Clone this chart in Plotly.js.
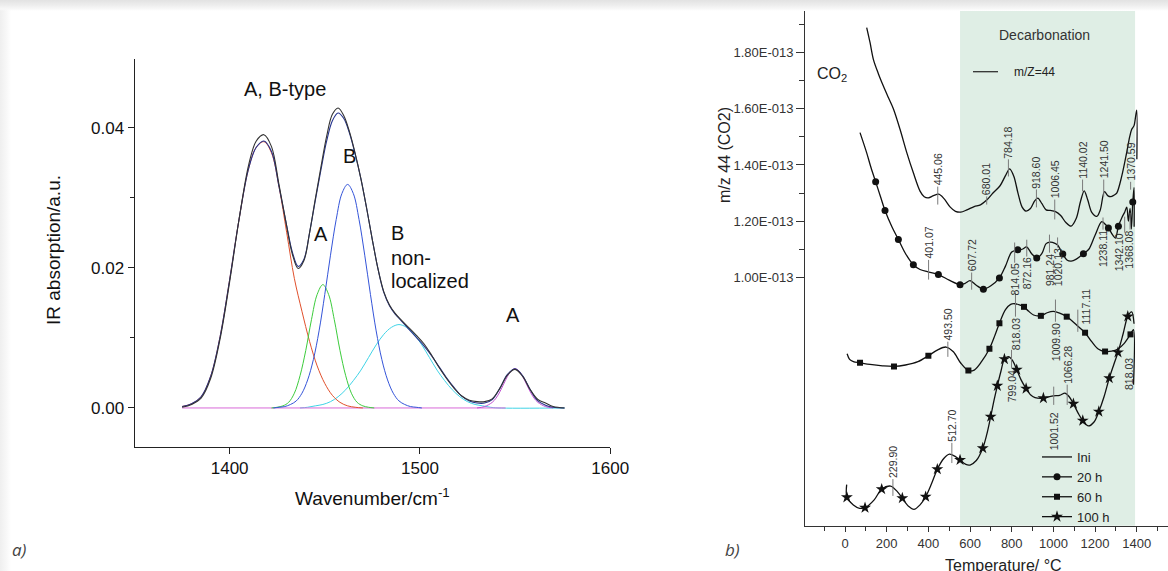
<!DOCTYPE html>
<html>
<head>
<meta charset="utf-8">
<script src="https://cdn.plot.ly/plotly-3.0.1.min.js"></script>
<style>
  html, body { margin: 0; padding: 0; }
  body {
    width: 1168px; height: 571px; overflow: hidden;
    background:
      linear-gradient(to bottom, #e2e2e2 0px, #ededed 5px, #f8f8f8 9px, rgba(255,255,255,0) 11px) top left / 100% 12px no-repeat,
      linear-gradient(to right, #efefef 0px, #f7f7f7 6px, rgba(255,255,255,0) 11px) left top / 12px 100% no-repeat,
      #ffffff;
  }
  #chart { width: 1168px; height: 571px; }
</style>
</head>
<body>
<div id="chart"></div>
<script>
// ---------- (a) IR band deconvolution, carbonate v3 region ----------
const fitX = [1375,1380,1385,1390,1395,1400,1405,1410,1414,1418,1422,1426,1430,1433,1436,1439,1442,1445,1448,1451,1454,1457,1460,1463,1466,1469,1472,1475,1478,1481,1484,1487,1490,1494,1498,1502,1506,1510,1514,1518,1522,1526,1530,1534,1538,1542,1546,1550,1554,1558,1562,1566,1570,1576];
const fitSum = [0.0002,0.0006,0.0016,0.0045,0.0102,0.0183,0.0270,0.0342,0.0372,0.0381,0.0366,0.0315,0.0260,0.0222,0.0202,0.0212,0.0250,0.0296,0.0340,0.0381,0.0410,0.0421,0.0413,0.0392,0.0362,0.0327,0.0285,0.0240,0.0198,0.0165,0.0146,0.0134,0.0125,0.0113,0.0101,0.0089,0.0075,0.0059,0.0043,0.0029,0.0017,0.0010,0.0007,0.0007,0.0012,0.0028,0.0048,0.0056,0.0046,0.0026,0.0010,0.0004,0.0001,0];
const measured = [0.0001,0.0005,0.0014,0.0042,0.0099,0.0180,0.0270,0.0347,0.0381,0.0390,0.0373,0.0318,0.0259,0.0219,0.0199,0.0210,0.0250,0.0298,0.0344,0.0388,0.0419,0.0428,0.0417,0.0394,0.0363,0.0327,0.0285,0.0240,0.0198,0.0166,0.0147,0.0135,0.0126,0.0115,0.0104,0.0092,0.0076,0.0058,0.0042,0.0028,0.0017,0.0011,0.0009,0.0009,0.0013,0.0028,0.0047,0.0055,0.0045,0.0026,0.0012,0.0007,0.0002,0];

const redX = [1375,1380,1385,1390,1395,1400,1405,1410,1414,1418,1422,1426,1430,1434,1438,1442,1446,1450,1454,1458,1462,1466,1470];
const redY = [0.0002,0.0006,0.0016,0.0045,0.0102,0.0183,0.0270,0.0342,0.0372,0.0380,0.0364,0.0315,0.0250,0.0185,0.0138,0.0095,0.0060,0.0035,0.0018,0.0008,0.0003,0.0001,0];

const greenX = [1422,1425,1428,1431,1434,1437,1440,1443,1446,1449,1452,1455,1458,1461,1464,1467,1470,1473,1476];
const greenY = [0,0.0001,0.0003,0.0008,0.0021,0.0046,0.0082,0.0126,0.0162,0.0176,0.0162,0.0126,0.0082,0.0046,0.0021,0.0008,0.0003,0.0001,0];

const bandBX = [1423,1426,1429,1432,1435,1438,1441,1444,1447,1450,1453,1456,1459,1462,1465,1468,1471,1474,1477,1480,1483,1486,1489,1492,1495,1498,1501];
const bandBY = [0,0.0001,0.0002,0.0005,0.0010,0.0021,0.0040,0.0069,0.0110,0.0162,0.0218,0.0269,0.0306,0.0319,0.0306,0.0269,0.0218,0.0162,0.0110,0.0069,0.0040,0.0021,0.0010,0.0005,0.0002,0.0001,0];

const cyanX = [1437,1441,1445,1449,1453,1457,1461,1465,1469,1473,1477,1481,1485,1489,1493,1497,1501,1505,1509,1513,1517,1521,1525,1529,1533,1537,1541,1576];
const cyanY = [0,0.0001,0.0003,0.0005,0.0009,0.0016,0.0026,0.0039,0.0054,0.0072,0.0090,0.0105,0.0115,0.0119,0.0115,0.0105,0.0090,0.0072,0.0054,0.0039,0.0026,0.0016,0.0009,0.0005,0.0003,0.0001,0,0];

const bandAX = [1530,1534,1538,1540,1542,1544,1546,1548,1550,1552,1554,1556,1558,1560,1562,1566,1570];
const bandAY = [0,0.0002,0.0008,0.0014,0.0023,0.0034,0.0045,0.0053,0.0056,0.0053,0.0045,0.0034,0.0023,0.0014,0.0008,0.0002,0];

const baseX = [1375,1545];
const baseY = [0,0];

const irTickVals = [0, 0.02, 0.04];
const irTickText = ['0.00', '0.02', '0.04'];
const wnTickVals = [1400, 1500, 1600];

// ---------- (b) MS signal m/z 44 vs temperature (values in 1e-13) ----------
const tIni = [104,120,136,160,184,208,232,264,296,328,360,380,400,425,450,475,505,530,555,585,620,650,680,710,744,770,790,810,830,850,868,890,910,925,945,965,985,1010,1035,1060,1085,1110,1130,1148,1165,1185,1208,1225,1245,1262,1275,1290,1304,1328,1352,1366,1376,1387,1395,1400,1400.5];
const vIni = [1.889,1.836,1.776,1.725,1.681,1.640,1.600,1.527,1.445,1.372,1.307,1.287,1.283,1.291,1.296,1.280,1.250,1.235,1.232,1.240,1.252,1.258,1.275,1.300,1.326,1.362,1.386,1.360,1.300,1.250,1.236,1.245,1.272,1.282,1.262,1.240,1.238,1.234,1.220,1.195,1.182,1.210,1.270,1.308,1.275,1.230,1.217,1.240,1.305,1.290,1.287,1.292,1.300,1.360,1.445,1.500,1.527,1.540,1.575,1.595,1.420];

const t20 = [72,104,125,147,170,192,225,256,290,328,360,395,448,500,552,575,600,630,664,700,741,770,800,829,850,872,895,920,945,965,985,1005,1020,1045,1065,1085,1110,1144,1170,1200,1232,1250,1264,1285,1298,1312,1330,1342,1352,1360,1368,1374,1381,1387,1387.5];
const v20 = [1.515,1.443,1.390,1.340,1.288,1.238,1.180,1.135,1.085,1.045,1.028,1.020,1.010,0.990,0.974,0.978,0.988,0.972,0.958,0.970,0.998,1.040,1.090,1.098,1.100,1.108,1.085,1.069,1.085,1.120,1.125,1.122,1.115,1.083,1.062,1.058,1.065,1.084,1.100,1.150,1.198,1.188,1.176,1.150,1.140,1.182,1.215,1.232,1.250,1.200,1.245,1.172,1.268,1.320,1.180];
const marks20 = [147,192,256,328,448,552,664,741,829,920,1045,1144,1264,1312,1381];

const t60 = [10,22,40,72,120,180,235,290,350,400,445,485,520,555,592,620,655,693,720,741,770,795,815,837,859,880,905,940,970,1000,1030,1064,1090,1115,1152,1185,1215,1248,1280,1310,1340,1370,1384,1384.5];
const v60 = [0.728,0.708,0.700,0.696,0.690,0.685,0.683,0.688,0.700,0.721,0.742,0.752,0.735,0.695,0.668,0.670,0.700,0.746,0.795,0.837,0.885,0.904,0.906,0.902,0.895,0.880,0.866,0.863,0.874,0.879,0.873,0.860,0.845,0.828,0.803,0.770,0.745,0.736,0.737,0.745,0.765,0.797,0.814,0.618];
const marks60 = [72,235,400,592,693,741,859,940,1064,1152,1248,1370];

const t100 = [8,9,40,70,96,140,176,219,250,275,305,331,360,387,415,443,475,501,530,552,580,600,630,661,680,699,715,731,748,765,784,805,824,845,869,890,912,952,975,1000,1030,1056,1076,1096,1120,1141,1168,1195,1218,1243,1268,1290,1310,1335,1357,1376,1387];
const v100 = [0.262,0.217,0.190,0.178,0.180,0.208,0.246,0.257,0.238,0.214,0.185,0.174,0.190,0.219,0.265,0.317,0.356,0.371,0.362,0.350,0.334,0.332,0.348,0.392,0.440,0.504,0.562,0.614,0.665,0.709,0.718,0.703,0.671,0.635,0.604,0.582,0.572,0.570,0.574,0.578,0.580,0.588,0.575,0.550,0.515,0.490,0.471,0.485,0.522,0.575,0.641,0.690,0.733,0.800,0.861,0.877,0.835];
const marks100 = [9,96,176,275,387,443,552,661,699,731,765,824,869,952,1096,1141,1218,1268,1310,1357];

// peak temperatures written on the curves
const peaksIni = [445.06, 680.01, 784.18, 918.60, 1006.45, 1140.02, 1241.50, 1370.59];
const peaks20 = [401.07, 607.72, 814.05, 872.16, 981.24, 1020.13, 1238.11, 1342.10, 1368.08];
const peaks60 = [493.50, 818.03, 1009.90, 1117.11];
const peaks100 = [229.90, 512.70, 799.04, 1001.52, 1066.28];
const decarbRange = [552, 1392];

const tempTickVals = [0, 200, 400, 600, 800, 1000, 1200, 1400];
const tempMinorVals = [-100, 100, 300, 500, 700, 900, 1100, 1300, 1500];
const msTickVals = [1.0, 1.2, 1.4, 1.6, 1.8];
const msTickText = ['1.00E-013', '1.20E-013', '1.40E-013', '1.60E-013', '1.80E-013'];
const msMinorVals = [1.1, 1.3, 1.5, 1.7, 1.9];

// label placement: [tick low, tick high, text y, text anchor, x shift px]
const placeIni = [[1.259,1.323,1.323,'bottom',0],[1.259,1.288,1.288,'bottom',0],[1.359,1.420,1.420,'bottom',0],[1.249,1.313,1.313,'bottom',0],[1.206,1.277,1.277,'bottom',0],[1.306,1.348,1.348,'bottom',0],[1.288,1.348,1.348,'bottom',0],[1.312,1.340,1.340,'bottom',0]];
const place20 = [[0.992,1.062,1.062,'bottom',0],[0.956,1.017,1.017,'bottom',0],[1.052,1.124,1.052,'top',0],[1.074,1.134,1.074,'top',0],[1.088,1.152,1.088,'top',0],[1.106,1.142,1.106,'top',0],[1.170,1.213,1.170,'top',0],[1.159,1.216,1.159,'top',-6],[1.170,1.230,1.170,'top',-2]];
const place60 = [[0.717,0.771,0.771,'bottom',0],[0.860,0.946,0.860,'top',0],[0.842,0.921,0.842,'top',0],[0.806,0.885,0.963,'top',8]];
const place100 = [[0.222,0.282,0.282,'bottom',0],[0.339,0.411,0.411,'bottom',0],[0.678,0.742,0.671,'top',0],[0.546,0.611,0.522,'top',0],[0.546,0.618,0.618,'bottom',0]];
const strayLabel = {text: '818.03', t: 1360, v: 0.718};

const FONT = 'Liberation Sans, Arial, Helvetica, sans-serif';

function irLine(x, y, color, width) {
  return {type: 'scatter', mode: 'lines', x: x, y: y, xaxis: 'x', yaxis: 'y',
    line: {color: color, width: width || 1, shape: 'spline', smoothing: 1},
    showlegend: false, hoverinfo: 'skip'};
}

function msSeries(name, t, v, marks, symbol, size) {
  const tr = {type: 'scatter', name: name, x: t, y: v, xaxis: 'x2', yaxis: 'y2',
    mode: marks ? 'lines+markers' : 'lines',
    line: {color: '#111', width: 1.3, shape: 'spline', smoothing: 0.9},
    hoverinfo: 'skip'};
  if (marks) {
    tr.marker = {symbol: symbol, size: size, color: '#111', line: {width: 0}};
    tr.selectedpoints = marks.map(m => t.indexOf(m));
    tr.selected = {marker: {opacity: 1}};
    tr.unselected = {marker: {opacity: 0}};
  }
  return tr;
}

const traces = [
  irLine(cyanX, cyanY, '#3fd3e6'),
  irLine(baseX, baseY, '#d86ad8'),
  irLine(redX, redY, '#e0502c'),
  irLine(greenX, greenY, '#3ccc3c'),
  irLine(bandBX, bandBY, '#3454d8'),
  irLine(bandAX, bandAY, '#c050d0'),
  irLine(fitX, fitSum, '#26348e', 1.1),
  irLine(fitX, measured, '#333333', 1.1),
  msSeries('Ini', tIni, vIni, null),
  msSeries('20 h', t20, v20, marks20, 'circle', 7),
  msSeries('60 h', t60, v60, marks60, 'square', 6),
  msSeries('100 h', t100, v100, marks100, 'star', 9)
];

const shapes = [{
  type: 'rect', xref: 'x2', yref: 'y2 domain', x0: decarbRange[0], x1: decarbRange[1], y0: 0, y1: 1,
  fillcolor: '#dfeee5', line: {width: 0}, layer: 'below'
}, {
  type: 'line', xref: 'paper', yref: 'paper', x0: 973 / 1168, x1: 998 / 1168, y0: 0.8744, y1: 0.8744,
  line: {color: '#222', width: 1.2}
}];

const annotations = [];
function peakLabels(peaks, place) {
  peaks.forEach((p, i) => {
    const pl = place[i];
    shapes.push({type: 'line', xref: 'x2', yref: 'y2', x0: p, x1: p, y0: pl[0], y1: pl[1],
      line: {color: '#7a7a7a', width: 1}});
    annotations.push({xref: 'x2', yref: 'y2', x: p, y: pl[2], yanchor: pl[3], xanchor: 'center',
      xshift: pl[4], textangle: -90, text: p.toFixed(2), showarrow: false, borderpad: 0,
      font: {family: FONT, size: 10.5, color: '#333'}});
  });
}
peakLabels(peaksIni, placeIni);
peakLabels(peaks20, place20);
peakLabels(peaks60, place60);
peakLabels(peaks100, place100);
annotations.push({xref: 'x2', yref: 'y2', x: strayLabel.t, y: strayLabel.v, yanchor: 'top', xanchor: 'center',
  textangle: -90, text: strayLabel.text, showarrow: false, borderpad: 0,
  font: {family: FONT, size: 10.5, color: '#333'}});

function txt(ref, x, y, text, size, opts) {
  return Object.assign({xref: ref === 'paper' ? 'paper' : 'x', yref: ref === 'paper' ? 'paper' : 'y',
    x: x, y: y, text: text, showarrow: false, xanchor: 'center', yanchor: 'middle',
    font: {family: FONT, size: size, color: '#111'}}, opts || {});
}

annotations.push(
  // band assignments, panel a
  txt('data', 1429.1, 0.0455, 'A, B-type', 20),
  txt('data', 1462.9, 0.0359, 'B', 20),
  txt('data', 1448, 0.0248, 'A', 20),
  txt('data', 1483.6, 0.0250, 'B', 20, {xanchor: 'left'}),
  txt('data', 1483.6, 0.0214, 'non-', 20, {xanchor: 'left'}),
  txt('data', 1483.6, 0.0181, 'localized', 20, {xanchor: 'left'}),
  txt('data', 1549, 0.0133, 'A', 20),
  // axis titles, panel a
  txt('paper', 372 / 1168, 0.1290, 'Wavenumber/cm<sup>-1</sup>', 19),
  txt('paper', 54 / 1168, 0.5622, 'IR absorption/a.u.', 19, {textangle: -90}),
  // panel b texts
  txt('paper', 1044 / 1168, 0.9387, 'Decarbonation', 14, {font: {family: FONT, size: 14, color: '#333'}}),
  txt('paper', 1011.7 / 1168, 0.8744, 'm/Z=44', 12, {xanchor: 'left', font: {family: FONT, size: 12, color: '#222'}}),
  txt('paper', 832 / 1168, 0.8690, 'CO<sub>2</sub>', 16, {font: {family: FONT, size: 16, color: '#222'}}),
  txt('paper', 725 / 1168, 0.7286, 'm/z 44 (CO2)', 16, {textangle: -90, font: {family: FONT, size: 16, color: '#222'}}),
  txt('paper', 1003.5 / 1168, 0.0105, 'Temperature/ °C', 16, {font: {family: FONT, size: 16, color: '#222'}}),
  // panel tags
  txt('paper', 19 / 1168, 0.0368, 'a)', 17, {font: {family: 'Open Sans, sans-serif', size: 17, color: '#444', style: 'italic'}}),
  txt('paper', 732 / 1168, 0.0368, 'b)', 17, {font: {family: 'Open Sans, sans-serif', size: 17, color: '#444', style: 'italic'}})
);

const axisCommon = {showgrid: false, zeroline: false, showline: true, ticks: 'outside', fixedrange: true};

const layout = {
  width: 1168, height: 571,
  margin: {l: 0, r: 0, t: 0, b: 0},
  paper_bgcolor: 'rgba(0,0,0,0)', plot_bgcolor: 'rgba(0,0,0,0)',
  font: {family: FONT, color: '#111'},
  hovermode: false,
  xaxis: Object.assign({}, axisCommon, {
    domain: [134.5 / 1168, 610.2 / 1168], range: [1350, 1600], anchor: 'y',
    linecolor: '#222', linewidth: 1, tickcolor: '#222', ticklen: 6,
    tickmode: 'array', tickvals: wnTickVals, tickfont: {size: 17, color: '#111'}
  }),
  yaxis: Object.assign({}, axisCommon, {
    domain: [(571 - 446.5) / 571, (571 - 59) / 571], range: [-0.0055, 0.0498], anchor: 'x',
    linecolor: '#222', linewidth: 1, tickcolor: '#222', ticklen: 6,
    tickmode: 'array', tickvals: irTickVals, ticktext: irTickText, tickfont: {size: 17, color: '#111'},
    minor: {tickmode: 'array', tickvals: [0.01, 0.03], ticks: 'outside', ticklen: 4, tickcolor: '#222'}
  }),
  xaxis2: Object.assign({}, axisCommon, {
    domain: [805.3 / 1168, 1], range: [-190.6, 1550], anchor: 'y2',
    linecolor: '#333', linewidth: 1.2, tickcolor: '#333', ticklen: 5,
    tickmode: 'array', tickvals: tempTickVals, tickfont: {size: 13, color: '#333'},
    minor: {tickmode: 'array', tickvals: tempMinorVals, ticks: 'outside', ticklen: 4, tickcolor: '#333'}
  }),
  yaxis2: Object.assign({}, axisCommon, {
    domain: [(571 - 525.7) / 571, (571 - 11) / 571], range: [0.116, 1.948], anchor: 'x2',
    linecolor: '#333', linewidth: 1.2, tickcolor: '#333', ticklen: 8,
    tickmode: 'array', tickvals: msTickVals, ticktext: msTickText, tickfont: {size: 13, color: '#333'},
    minor: {tickmode: 'array', tickvals: msMinorVals, ticks: 'outside', ticklen: 5, tickcolor: '#333'}
  }),
  showlegend: true,
  legend: {
    x: 1037 / 1168, y: (571 - 442) / 571, xanchor: 'left', yanchor: 'top',
    bgcolor: 'rgba(0,0,0,0)', borderwidth: 0, itemwidth: 30, tracegroupgap: 0,
    font: {family: FONT, size: 13, color: '#222'}
  },
  shapes: shapes,
  annotations: annotations
};

Plotly.newPlot('chart', traces, layout, {staticPlot: true, displayModeBar: false});
</script>
</body>
</html>
